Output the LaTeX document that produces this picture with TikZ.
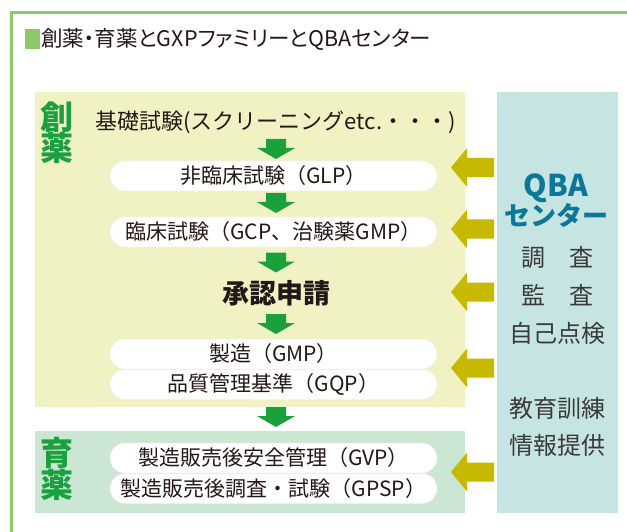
\documentclass[tikz,border=0pt]{standalone}
\usepackage{fontspec}
\setmainfont{Noto Sans CJK JP}
\definecolor{framegreen}{HTML}{8DC96A}
\definecolor{yellowbg}{HTML}{F0F2C4}
\definecolor{greenbg}{HTML}{CCE6D4}
\definecolor{bluebg}{HTML}{C5E4E2}
\definecolor{arrgreen}{HTML}{1CA03C}
\definecolor{arrolive}{HTML}{C7B800}
\definecolor{labgreen}{HTML}{1BA040}
\definecolor{qbablue}{HTML}{0B789A}
\definecolor{txt}{HTML}{231815}
\definecolor{bluetxt}{HTML}{3A3A3A}
\tikzset{
  pill/.style={fill=white, draw=black!7, line width=0.4pt, rounded corners=15pt,
    minimum width=327pt, minimum height=30pt, inner sep=0pt,
    font=\fontsize{21}{21}\selectfont, text=txt},
  rowtext/.style={font=\fontsize{22}{22}\selectfont, text=txt, inner sep=0pt},
  biglab/.style={font=\fontsize{33}{33}\selectfont\bfseries, text=labgreen, inner sep=0pt},
  qbatext/.style={font=\fontsize{26}{26}\selectfont\bfseries, text=qbablue, inner sep=0pt},
  sidetext/.style={font=\fontsize{24}{24}\selectfont, text=bluetxt, inner sep=0pt},
  downarr/.pic={\fill[arrgreen] (-10,-10) -- (10,-10) -- (10,-1) -- (19,-1) -- (0,10) -- (-19,-1) -- (-10,-1) -- cycle;},
  leftarr/.pic={\fill[arrolive] (0,0) -- (16,-19.5) -- (16,-9.5) -- (43,-9.5) -- (43,9.5) -- (16,9.5) -- (16,19.5) -- cycle;}
}
\begin{document}
\begin{tikzpicture}[x=1pt,y=-1pt]
\useasboundingbox (0,0) rectangle (627,532);
% frame
\draw[framegreen, line width=2.5pt] (628,12.5) -- (11.5,12.5) -- (11.5,533);
% title
\fill[framegreen] (25,29.5) rectangle (40,49);
\node[anchor=west, inner sep=0pt, font=\fontsize{21.5}{21.5}\selectfont\addfontfeatures{RawFeature=+palt}, text=txt] (title) at (41,39.5) {創薬・育薬とGXPファミリーとQBAセンター};
% backgrounds
\fill[yellowbg] (35,92) rectangle (465,407);
\fill[greenbg] (35,431) rectangle (465,513);
\fill[bluebg] (497,92) rectangle (618,513);
% left labels
\node[biglab] (s1) at (56.5,117) {創};
\node[biglab] (s2) at (56.5,148) {薬};
\node[biglab] (i1) at (56.5,453) {育};
\node[biglab] (i2) at (56.5,485) {薬};
% flow
\node[rowtext] (basic) at (275.5,122) {基礎試験(スクリーニングetc.・・・)};
\node[pill] (p1) at (273.5,176) {非臨床試験（GLP）};
\node[pill] (p2) at (273.5,232) {臨床試験（GCP、治験薬GMP）};
\node[font=\fontsize{27}{27}\selectfont\bfseries, text=txt, inner sep=0pt] (appr) at (276,293) {承認申請};
\node[pill] (p3) at (273.5,354) {製造（GMP）};
\node[pill] (p4) at (273.5,384.5) {品質管理基準（GQP）};
\node[pill] (p5) at (273.5,458) {製造販売後安全管理（GVP）};
\node[pill] (p6) at (273.5,488.5) {製造販売後調査・試験（GPSP）};
% green down arrows
\pic at (276,149) {downarr};
\pic at (276,203) {downarr};
\pic at (276,262.5) {downarr};
\pic at (276,324) {downarr};
\pic at (276,417) {downarr};
% olive arrows from QBA
\pic at (451,167.5) {leftarr};
\pic at (451,229) {leftarr};
\pic at (451,292) {leftarr};
\pic at (451,368) {leftarr};
\pic at (451,472) {leftarr};
% QBA column
\node[qbatext, font=\fontsize{30}{30}\selectfont\bfseries] (q1) at (556,188) {QBA};
\node[qbatext] (q2) at (556,215) {センター};
\node[sidetext] (t1) at (557,257) {調　査};
\node[sidetext] (t2) at (557,295) {監　査};
\node[sidetext] (t3) at (557,333) {自己点検};
\node[sidetext] (t4) at (557,408) {教育訓練};
\node[sidetext] (t5) at (557,445) {情報提供};
\end{tikzpicture}
\end{document}
